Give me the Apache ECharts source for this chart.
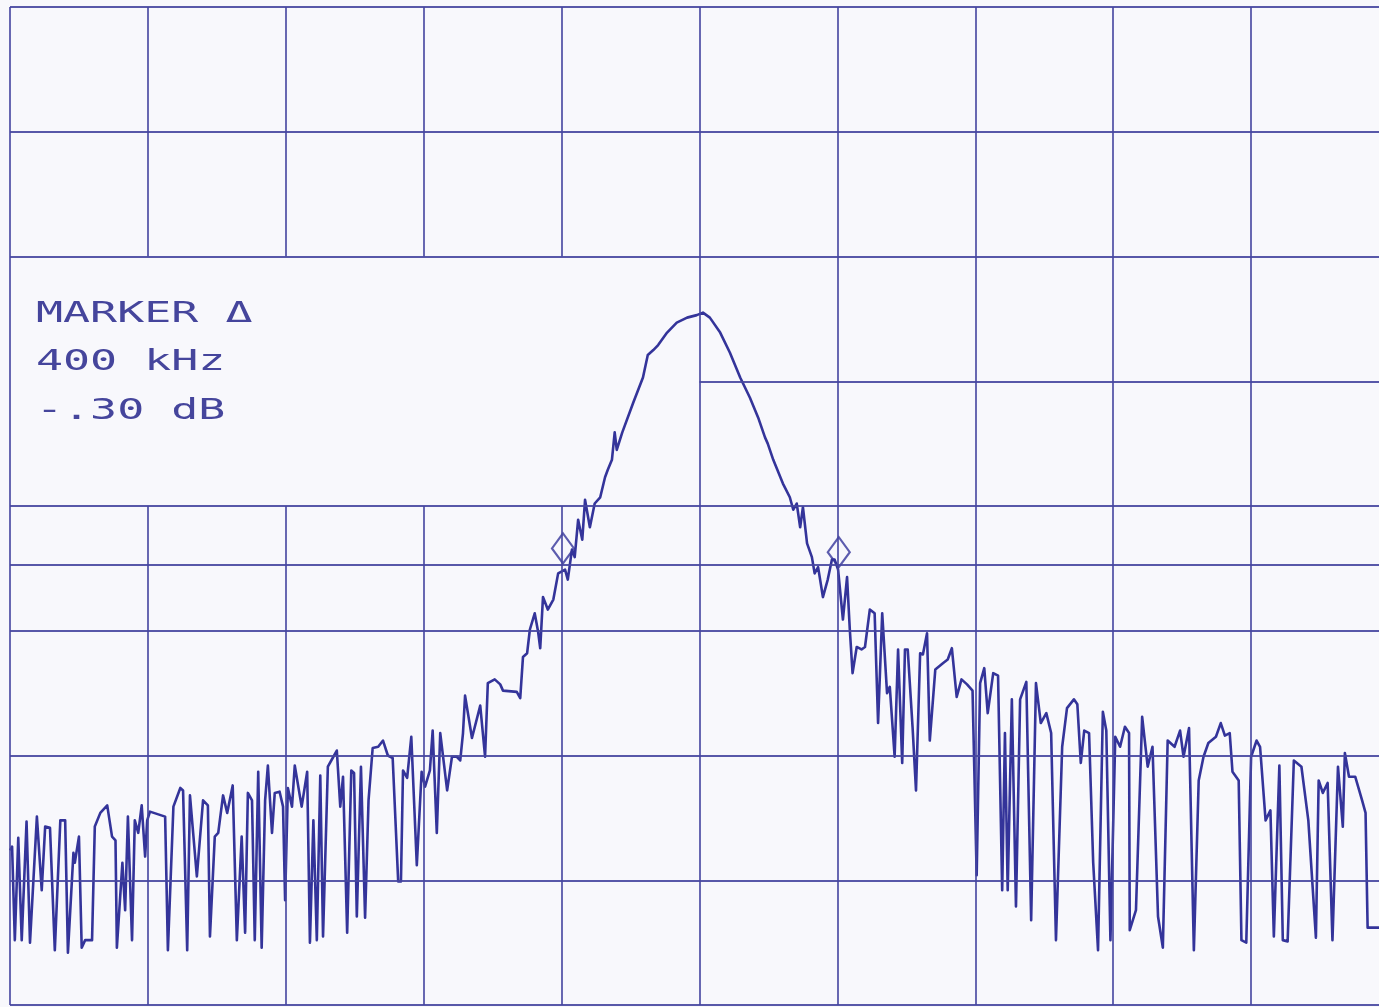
<!DOCTYPE html>
<html>
<head>
<meta charset="utf-8">
<script src="https://cdn.jsdelivr.net/npm/echarts@6/dist/echarts.min.js"></script>
<style>
  html, body { margin: 0; padding: 0; background: #f8f8fc; overflow: hidden; }
  #chart { width: 1379px; height: 1007px; }
</style>
</head>
<body>
<div id="chart"></div>
<script>
// Frequency offset from centre (kHz) and level (dB) — 200 kHz/div, 10 dB/div
var noiseLeftF = [-1000,-997,-993,-988,-983,-976,-971,-961,-954,-949,-942,-935,-927,-920,-916,-908,-906,-900,-896,-891,-881,-877,-869,-859,-852,-847,-845,-837,-833,-829,-823,-819,-814,-809,-804,-801,-797,-775,-771,-763,-753,-749,-743,-739,-729,-720,-713,-710,-703,-698,-691,-685,-677,-671,
  -664,-659,-655,-649,-645,-640,-635,-630,-626,-620,-616,-609,-604,-601,-597,-591,-587,-577,-569,-565,-560,-555,-550,-546,-539,-531,-526,-521,-517,-511,-505,-501,-497,-491,-485,-480,-474,-466,-459,-452,-445,-437,-433,-430,-424,-418,-410,-403,-398,-391,-387,-381,-376,-366,-359,-352,-347,-343,-340,-330,-318,-311,-307,-297,-289,-285,-265,-260];
var noiseLeftDb = [-67.6,-67.3,-74.8,-66.6,-74.8,-65.3,-75.0,-64.9,-70.8,-65.7,-65.8,-75.6,-65.2,-65.2,-75.8,-67.8,-68.6,-66.5,-75.4,-74.8,-74.8,-65.7,-64.6,-64.0,-66.5,-66.8,-75.4,-68.6,-72.4,-64.9,-74.8,-65.2,-66.2,-64.0,-68.1,-65.2,-64.5,-64.9,-75.6,-64.1,-62.6,-62.8,-75.6,-63.2,-69.7,-63.6,-64.0,-74.5,-66.5,-66.2,-63.2,-64.6,-62.4,-74.8,
  -66.5,-74.2,-63.0,-63.6,-74.8,-61.3,-75.4,-63.6,-60.8,-66.2,-63.0,-62.9,-64.1,-71.6,-62.6,-64.1,-60.8,-64.1,-61.3,-75.0,-65.2,-74.8,-61.6,-74.5,-60.9,-60.1,-59.6,-64.1,-61.7,-74.2,-61.2,-61.4,-72.9,-60.9,-73.0,-63.6,-59.4,-59.3,-58.8,-60.0,-60.2,-70.1,-70.1,-61.2,-61.8,-58.5,-68.8,-61.3,-62.5,-61.2,-58.0,-66.2,-58.2,-62.8,-60.1,-60.1,-60.4,-58.2,-55.2,-58.6,-56.0,-60.1,-54.2,-53.9,-54.3,-54.8,-54.9,-55.4];
var carrierF = [-256,-250,-246,-239,-234,-231,-227,-220,-212,-205,-195,-191,-185,-181,-176,-170,-166,-159,-152,-144,-137,-133,-127,-123,-120,-112,-96,-82,-75,-67,-60,-47,-33,-18,-4,5,15,30,44,59,73,85,95,99,107,121,131,136,141,146,150,156,163,167,172,179,186,192,196,201,208,214,218];
var carrierDb = [-52.1,-51.8,-49.9,-48.6,-50.1,-51.4,-47.3,-48.3,-47.5,-45.4,-45.1,-45.9,-43.5,-44.1,-41.1,-42.7,-39.5,-41.7,-39.8,-39.3,-37.7,-37.1,-36.3,-34.1,-35.5,-34.1,-31.7,-29.7,-27.9,-27.5,-27.1,-26.1,-25.3,-24.9,-24.7,-24.5,-24.9,-26.1,-27.7,-29.7,-31.3,-32.9,-34.5,-35.0,-36.3,-38.2,-39.3,-40.3,-39.8,-41.7,-40.1,-43.0,-44.1,-45.4,-44.9,-47.3,-45.9,-44.3,-44.3,-45.1,-49.1,-45.7,-49.9];
var noiseRightF = [222,228,235,240,247,254,259,265,272,276,283,288,294,298,302,309,314,320,324,330,334,342,353,360,366,373,380,388,396,402,407,413,418,426,433,439,443,447,453,459,465,474,481,488,495,503,510,517,526,533,543,548,553,558,565,571,578,585,590,596,603,610,617,623,624,633,642,650,657,665,672,679,689,697,702,710,717,724,731,738,749,756,762,769,773,782,786,793,800,808,813,821,828,833,841,846,853,862,873,883,894,898,904,911,918,926,933,936,942,951,961,966,969,985,1000];
var noiseRightDb = [-53.4,-51.3,-51.5,-51.3,-48.3,-48.6,-57.4,-48.6,-55.0,-54.5,-60.1,-51.5,-60.6,-51.5,-51.5,-57.7,-62.8,-51.8,-51.9,-50.2,-58.8,-53.1,-52.6,-52.3,-51.4,-55.3,-53.9,-54.3,-54.8,-69.6,-54.2,-53.0,-56.6,-53.4,-53.6,-70.8,-58.2,-70.8,-55.5,-72.1,-55.5,-54.1,-73.2,-54.2,-57.4,-56.6,-58.2,-74.8,-59.3,-56.2,-55.5,-55.9,-60.6,-58.0,-58.2,-68.6,-75.6,-56.5,-58.0,-74.8,-58.5,-59.3,-57.7,-58.2,-74.0,-72.4,-56.9,-60.9,-59.3,-72.9,-75.4,-58.8,-59.3,-58.0,-60.1,-57.8,-75.6,-62.0,-60.1,-59.0,-58.5,-57.4,-58.4,-58.2,-61.3,-62.0,-74.8,-75.0,-60.1,-58.8,-59.3,-65.2,-64.4,-74.5,-60.8,-74.8,-74.9,-60.4,-60.9,-65.2,-74.6,-62.0,-63.0,-62.2,-74.8,-60.9,-65.7,-59.8,-61.7,-61.7,-63.6,-64.6,-73.8,-73.8,-73.8];

// Markers (delta 400 kHz)
var markerF = [-198, 202];
var markerDb = [-43.4, -43.7];
var displayLineDb = -44.7;

// Graticule (the photo is cropped just before the right border at +1000 kHz)
var gridF = [-1000,-800,-600,-400,-200,0,200,400,600,800,1000];
var gridDb = [0,-10,-20,-30,-40,-50,-60,-70,-80];
var visibleMaxF = 985.5;
// graticule cleared behind the annotation box
var blankF = [-1000, 0];
var blankDb = [-40, -20];

var annotation = ['MARKER \u0394', '400 kHz', '-.30 dB'];

var traceF = noiseLeftF.concat(carrierF, noiseRightF);
var traceDb = noiseLeftDb.concat(carrierDb, noiseRightDb);
var traceData = traceF.map(function (f, i) { return [f, traceDb[i]]; });

var ink = '#34349a';
var gridInk = '#4646a0';

var gridSegs = [];
gridF.forEach(function (f) {
  if (f > visibleMaxF) return;
  if (f > blankF[0] && f < blankF[1]) {
    gridSegs.push([{coord: [f, -80]}, {coord: [f, blankDb[0]]}]);
    gridSegs.push([{coord: [f, blankDb[1]]}, {coord: [f, 0]}]);
  } else {
    gridSegs.push([{coord: [f, -80]}, {coord: [f, 0]}]);
  }
});
gridDb.forEach(function (d) {
  if (d > blankDb[0] && d < blankDb[1]) {
    gridSegs.push([{coord: [blankF[1], d]}, {coord: [visibleMaxF, d]}]);
  } else {
    gridSegs.push([{coord: [-1000, d]}, {coord: [visibleMaxF, d]}]);
  }
});
gridSegs.push([{coord: [-1000, displayLineDb]}, {coord: [visibleMaxF, displayLineDb]}]);

var chart = echarts.init(document.getElementById('chart'), null, {renderer: 'canvas'});
chart.setOption({
  backgroundColor: '#f8f8fc',
  animation: false,
  grid: {left: 10, top: 7, right: 0, bottom: 2, containLabel: false},
  xAxis: {
    type: 'value', min: -1000, max: visibleMaxF, interval: 200,
    axisLine: {show: false}, axisTick: {show: false}, axisLabel: {show: false}, splitLine: {show: false}
  },
  yAxis: {
    type: 'value', min: -80, max: 0, interval: 10,
    axisLine: {show: false}, axisTick: {show: false}, axisLabel: {show: false}, splitLine: {show: false}
  },
  series: [
    {
      type: 'line', data: [], silent: true, z: 1,
      markLine: {
        silent: true, symbol: ['none', 'none'], animation: false,
        label: {show: false},
        lineStyle: {color: gridInk, width: 1.8, type: 'solid', opacity: 0.9},
        emphasis: {disabled: true},
        data: gridSegs
      }
    },
    {
      type: 'line', data: traceData, z: 3, clip: false,
      symbol: 'none', smooth: false,
      lineStyle: {color: ink, width: 2.6, join: 'round'}
    },
    {
      type: 'scatter', z: 4,
      data: markerF.map(function (f, i) { return [f, markerDb[i]]; }),
      symbol: 'diamond', symbolSize: [22, 30],
      itemStyle: {color: 'rgba(0,0,0,0)', borderColor: ink, borderWidth: 2.2}
    }
  ],
  graphic: annotation.map(function (t, i) {
    return {
      type: 'text', x: 36, y: 314 + i * 48.5, scaleX: 1.55, z: 10,
      style: {
        text: t, fill: '#45459c',
        font: '29px "DejaVu Sans Mono"',
        verticalAlign: 'middle', align: 'left'
      }
    };
  })
});
</script>
</body>
</html>
